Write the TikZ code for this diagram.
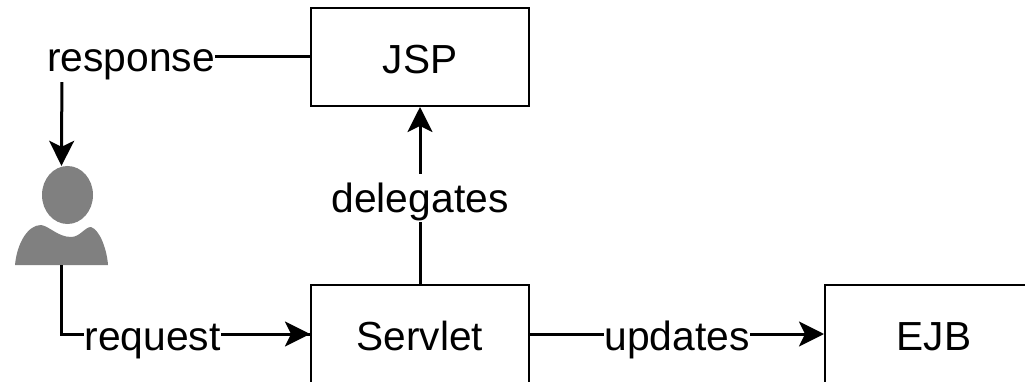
\documentclass[tikz,border=0pt]{standalone}
\usepackage{fontspec}
\setmainfont{Liberation Sans}
\usetikzlibrary{arrows.meta}
\tikzset{
  boxnode/.style={draw=black,line width=2pt,fill=white,minimum width=218pt,minimum height=98pt,inner sep=0pt,font=\fontsize{40.6}{44}\selectfont,text=black,text height=33pt,text depth=0pt},
  flow/.style={draw=black,line width=3pt,-{Stealth[length=25pt,width=25pt,inset=6pt]}},
  plain/.style={draw=black,line width=3pt},
  lbl/.style={fill=white,inner xsep=0pt,inner ysep=2pt,font=\fontsize{40.8}{44}\selectfont,text=black,text height=36pt,text depth=8pt,anchor=base},
  usermark/.style={inner sep=0pt,minimum width=93pt,minimum height=99pt}
}
\begin{document}
\begin{tikzpicture}[x=1pt,y=-1pt]
\useasboundingbox (0,0) rectangle (1025,382);
\clip (0,0) rectangle (1025,382);
\fill[white] (0,0) rectangle (1025,382);
\node[boxnode] (jsp) at (420,57) {JSP};
\node[boxnode] (servlet) at (420,334) {Servlet};
\node[boxnode] (ejb) at (934,334) {EJB};
\node[usermark] (user) at (61.5,215.5) {};
\fill[black!50] (67.5,195) ellipse (25.5 and 29);
\fill[black!50] (15,265) .. controls (17,243) and (28,225) .. (41,225)
  .. controls (49,226) and (58,237) .. (71,237)
  .. controls (80,237) and (85,227) .. (91,227)
  .. controls (100,230) and (107,250) .. (108,265) -- cycle;
\draw[plain] (jsp.west) -- (62,57) coordinate (corner);
\draw[flow] (corner) -- (user.north);
\node[lbl] (resp) at (131,72) {response};
\draw[plain] (user.south) |- (servlet.west);
\draw[flow] (150,334) -- (servlet.west);
\node[lbl] (req) at (152.5,350) {request};
\draw[flow] (servlet.north) -- (jsp.south);
\node[lbl] (del) at (420,212) {delegates};
\draw[flow] (servlet.east) -- (ejb.west);
\node[lbl] (upd) at (677,350) {updates};
\end{tikzpicture}
\end{document}
